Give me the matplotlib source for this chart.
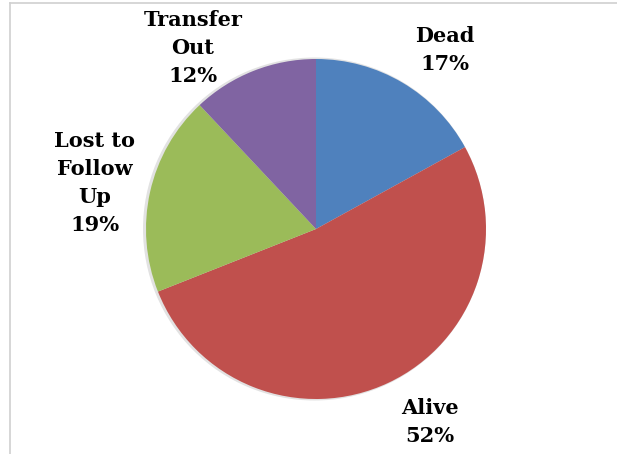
import matplotlib
matplotlib.use("Agg")
import matplotlib.pyplot as plt
from matplotlib.lines import Line2D

categories = ["Dead", "Alive", "Lost to\nFollow\nUp", "Transfer\nOut"]
percentages = [17, 52, 19, 12]
colors = ["#4F81BD", "#C0504D", "#9BBB59", "#8064A2"]

# label anchor positions (pixel space, y measured from top)
label_xy = [(445, 49.5), (430, 422.5), (95, 183), (193, 48.5)]

W, H = 617, 454
fig = plt.figure(figsize=(W / 100, H / 100), dpi=100)
ax = fig.add_axes([0, 0, 1, 1])
ax.set_xlim(0, W)
ax.set_ylim(0, H)
ax.set_aspect("equal")
ax.axis("off")

center = (316, H - 229)
radius = 170

# faint shadow under the pie
ax.pie([1], colors=["#e2e2e2"], radius=radius + 1.5, center=(center[0] - 1.5, center[1]),
       wedgeprops=dict(linewidth=0))
ax.pie(percentages, colors=colors, startangle=90, counterclock=False,
       radius=radius, center=center, wedgeprops=dict(linewidth=0))
ax.set_xlim(0, W)
ax.set_ylim(0, H)

font = dict(family=["DejaVu Serif"], fontweight="bold", fontsize=15, color="black")
for cat, pct, (x, y) in zip(categories, percentages, label_xy):
    ax.text(x, H - y, f"{cat}\n{pct}%", ha="center", va="center",
            linespacing=1.5, **font)

# chart frame lines (top and left edges)
fig.add_artist(Line2D([9.5 / W, 1], [1 - 2.5 / H, 1 - 2.5 / H],
                      transform=fig.transFigure, color="#d0d0d0", lw=1.2))
fig.add_artist(Line2D([9.5 / W, 9.5 / W], [0, 1 - 2.5 / H],
                      transform=fig.transFigure, color="#d0d0d0", lw=1.2))

fig.savefig("out.png", dpi=100)
